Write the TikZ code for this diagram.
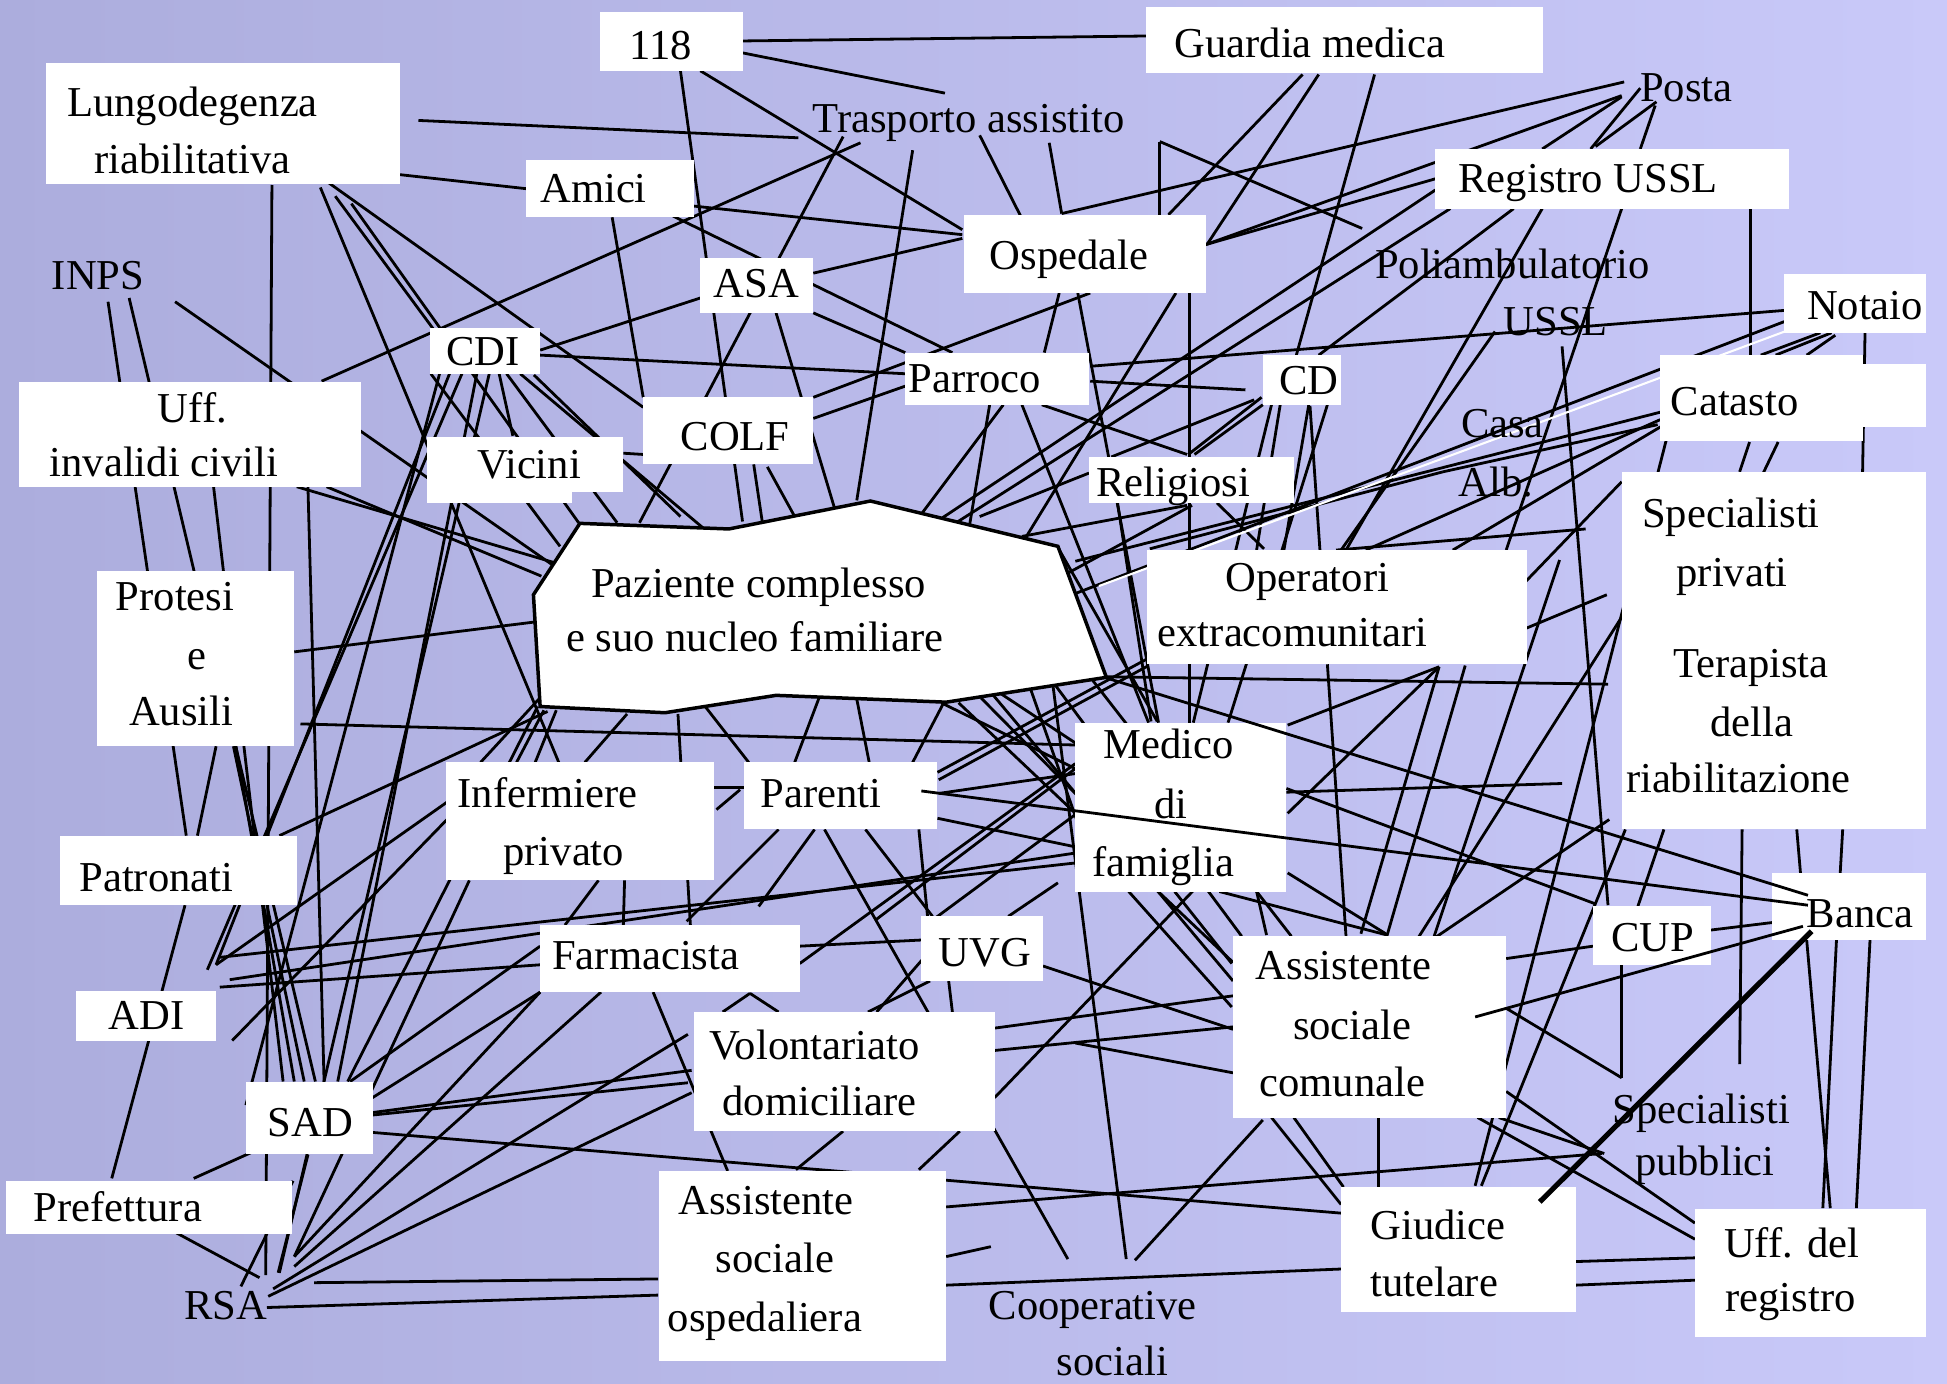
\documentclass[tikz,border=0pt]{standalone}
\usepackage{fontspec}
\setmainfont{Liberation Serif}
\definecolor{bgL}{RGB}{172,173,221}
\definecolor{bgR}{RGB}{201,201,249}
\begin{document}
\begin{tikzpicture}[x=0.0125cm,y=-0.0125cm,
  conn/.style={line width=0.8pt, black},
  thickconn/.style={line width=1.5pt, black},
  wbox/.style={fill=white},
  lbl/.style={anchor=base, inner sep=0pt, font=\fontsize{12.2}{14}\selectfont}]
\useasboundingbox (0,0) rectangle (1568,1114);
\shade[left color=bgL, right color=bgR] (0,0) rectangle (1568,1114);
% ---------- connectors (behind boxes)
\foreach \a/\b/\c/\d in {
598/33/923/29, 585/40/761/75, 564/57/775/185, 548/57/598/420, 337/97/643/111,
316/140/424/152, 559/166/775/189, 542/174/767/284, 655/220/775/192, 655/252/729/284,
679/110/515/421, 735/121/690/403, 789/109/825/180, 845/115/855/172, 855/172/1308/66,
934/114/934/173, 934/114/1097/184, 1049/60/941/173, 1062/60/972/197, 1107/60/1044/286,
971/197/1306/77, 971/197/1156/144, 1306/78/1242/120, 1321/71/1281/120, 1334/82/1285/118,
1333/85/1321/120, 259/307/693/115, 141/243/445/455, 87/243/150/673, 104/240/254/871,
219/149/214/1027, 258/151/450/614, 270/158/349/265, 283/164/466/421, 263/146/518/328,
493/175/518/320, 435/282/564/240, 435/286/729/301, 625/252/672/409, 853/236/841/284,
797/326/781/422, 868/236/933/582, 878/236/655/320, 729/311/655/337, 947/236/826/433,
958/236/958/582, 1156/153/759/417, 1168/168/770/421, 1219/168/1062/286, 1242/168/1084/443,
1306/168/1213/443, 1410/168/1410/286, 1437/250/878/295, 878/307/1003/314, 839/326/956/366,
823/326/925/582, 808/326/742/414, 957/366/1016/320, 962/366/1017/326, 1010/322/895/368,
1024/326/961/582, 1069/326/989/582, 1054/326/1034/443, 1055/327/1063/443, 1031/326/1012/443,
1258/279/1295/729, 1204/267/1080/443, 1437/259/866/478, 1337/332/866/452, 1342/341/1170/443,
1335/342/1162/380, 1162/380/926/442, 1337/338/1100/443, 1466/268/1418/286, 1475/268/1430/286,
1478/270/1455/286, 1502/267/1500/381, 1409/356/1401/380, 1432/356/1420/381, 1342/354/1188/955,
1309/668/1193/955, 1229/468/1306/388, 1229/506/1294/479, 1277/426/1076/443, 891/545/1295/551,
1036/638/1258/631, 1036/635/1285/728, 1037/655/1159/537, 1037/584/1159/537, 1069/535/1084/754,
1159/537/1096/752, 1180/536/1116/757, 1306/497/1141/757, 1296/660/1153/757, 1256/451/1155/754,
1037/703/1116/752, 925/530/755/622, 925/536/756/628, 900/405/927/581, 960/407/861/461,
877/381/789/416, 956/407/823/432, 980/405/1018/442, 852/441/932/581, 805/558/867/599,
790/562/867/640, 830/555/867/660, 239/392/446/453, 263/392/436/464, 248/392/261/871,
172/392/228/871, 237/525/430/501, 242/583/866/600, 159/673/174/601, 188/601/245/871,
190/601/237/871, 225/673/441/573, 149/729/90/949, 372/301/167/781, 362/301/174/777,
384/301/272/871, 394/301/225/1025, 354/301/198/890, 360/646/174/777, 360/660/187/838,
177/795/435/777, 185/789/866/687, 177/771/866/695, 300/896/557/862, 300/898/554/872,
300/912/1080/977, 300/884/435/799, 282/871/435/762, 433/569/280/871, 225/918/156/949,
215/1053/530/1043, 253/1033/530/1030, 216/1044/557/880, 220/1038/554/833, 237/1020/484/799,
237/1012/435/799, 237/1012/378/709, 224/1025/248/930, 194/1036/236/951, 133/988/209/1029,
434/563/387/614, 438/572/416/614, 448/572/431/614, 505/575/471/614, 347/301/451/440,
402/301/413/351, 408/301/497/421, 419/301/566/425, 430/302/548/416, 502/365/518/366,
607/374/614/421, 618/376/640/416, 546/575/556/745, 553/742/627/668, 611/730/656/668,
697/668/751/738, 740/668/747/738, 755/659/866/682, 756/639/866/623, 575/634/599/634,
577/652/596/636, 603/614/564/564, 640/614/660/561, 700/614/690/563, 735/614/760/566,
482/709/455/745, 503/709/502/745, 644/762/743/757, 526/799/586/943, 644/776/866/615,
749/790/699/815, 747/768/706/815, 764/790/767/815, 812/738/852/711, 840/778/993/829,
604/800/582/815, 604/800/627/815, 801/828/993/802, 801/846/993/827, 679/911/641/942,
773/911/740/942, 801/884/967/711, 664/668/860/1014, 848/552/907/1014, 914/1015/1017/902,
866/840/993/864, 762/1012/798/1004, 762/1035/1080/1022, 762/972/1290/929, 909/718/992/811,
946/718/992/776, 982/718/1117/753, 1012/718/1020/753, 758/566/866/619, 772/566/993/775,
800/560/993/790, 850/552/1000/754, 880/548/1040/754, 866/656/751/741, 866/619/705/741,
1024/900/1080/970, 1042/900/1082/956, 1110/900/1110/957, 1213/772/1283/762, 1213/812/1306/868,
1213/879/1365/985, 1190/900/1365/998, 1207/900/1292/929, 1378/749/1427/743, 1306/769/1306/868,
1317/736/1340/668, 1455/757/1474/973, 1479/757/1468/973, 1506/757/1495/973, 1447/668/1450/703,
1484/668/1482/703, 1403/668/1401/857, 1269/1016/1365/1013, 1269/1035/1365/1031}
{\draw[conn] (\a,\b) -- (\c,\d);}
\draw[white, line width=0.6pt] (1440,266) -- (885,472);
% ---------- white boxes
\foreach \a/\b/\c/\d in {
483/10/598/57, 923/6/1243/59, 37/51/322/148, 424/129/559/175, 776/173/971/236,
564/208/655/252, 346/264/435/301, 729/284/877/326, 1017/286/1080/326, 518/320/655/374,
15/308/291/392, 344/352/502/396, 344/352/461/405, 877/368/1042/405, 1156/120/1441/168,
1437/221/1551/268, 1337/286/1500/355, 1500/293/1551/344, 924/443/1230/535, 1306/380/1551/668,
78/460/237/601, 359/614/575/709, 599/614/755/668, 866/582/1036/718, 48/673/239/729,
435/745/644/799, 742/738/840/790, 1283/730/1378/777, 1427/703/1551/757, 61/798/174/838,
559/815/801/911, 993/754/1213/900, 198/871/300/929, 5/951/235/994, 531/943/762/1096,
1080/956/1269/1057, 1365/974/1551/1077}
{\fill[wbox] (\a,\b) rectangle (\c,\d);}
% ---------- central polygon
\draw[fill=white, line width=1pt] (467,421.5) -- (587,426) -- (701,403.5) -- (852,440)
  -- (891,545.5) -- (762,565.5) -- (625,560) -- (535.5,574) -- (435,569) -- (429.6,479) -- cycle;
% ---------- connectors drawn over boxes
\draw[conn] (742,637) -- (1456,729);
\draw[conn] (891,546) -- (1456,721);
\draw[conn] (1188,819) -- (1452,746);
\draw[thickconn] (1459,750) -- (1240,968);
% ---------- labels
\node[lbl] (t118) at (532,48) {118};
\node[lbl] (tguard) at (1055,46) {Guardia medica};
\node[lbl] (tlung1) at (155,94) {Lungodegenza};
\node[lbl] (tlung2) at (155,140) {riabilitativa};
\node[lbl] (tamici) at (478,163) {Amici};
\node[lbl] (ttrasp) at (780,107) {Trasporto assistito};
\node[lbl] (tosp) at (861,217) {Ospedale};
\node[lbl] (tasa) at (609,240) {ASA};
\node[lbl] (tinps) at (79,233) {INPS};
\node[lbl] (tcdi) at (389,294) {CDI};
\node[lbl] (tparr) at (785,316) {Parroco};
\node[lbl] (tcd) at (1054,318) {CD};
\node[lbl] (tcolf) at (592,363) {COLF};
\node[lbl] (tuff1) at (155,340) {Uff.};
\node[lbl] (tuff2) at (132,384) {invalidi civili};
\node[lbl] (tvic) at (426,385) {Vicini};
\node[lbl] (trel) at (945,400) {Religiosi};
\node[lbl] (tpoli1) at (1218,224) {Poliambulatorio};
\node[lbl] (tpoli2) at (1253,270) {USSL};
\node[lbl] (tposta) at (1358,82) {Posta};
\node[lbl] (treg) at (1279,155) {Registro USSL};
\node[lbl] (tnot) at (1502,257) {Notaio};
\node[lbl] (tcat) at (1397,335) {Catasto};
\node[lbl] (tcasa1) at (1210,352) {Casa};
\node[lbl] (tcasa2) at (1205,400) {Alb.};
\node[lbl] (toper1) at (1053,476) {Operatori};
\node[lbl] (toper2) at (1041,521) {extracomunitari};
\node[lbl] (tspp1) at (1394,425) {Specialisti};
\node[lbl] (tspp2) at (1395,472) {privati};
\node[lbl] (tter1) at (1410,546) {Terapista};
\node[lbl] (tter2) at (1411,593) {della};
\node[lbl] (tter3) at (1400,638) {riabilitazione};
\node[lbl] (tpaz1) at (611,481) {Paziente complesso};
\node[lbl] (tpaz2) at (608,525) {e suo nucleo familiare};
\node[lbl] (tprot1) at (141,492) {Protesi};
\node[lbl] (tprot2) at (159,539) {e};
\node[lbl] (tprot3) at (146,584) {Ausili};
\node[lbl] (tinf1) at (441,650) {Infermiere};
\node[lbl] (tinf2) at (454,697) {privato};
\node[lbl] (tpar) at (661,650) {Parenti};
\node[lbl] (tmed1) at (941,611) {Medico};
\node[lbl] (tmed2) at (943,659) {di};
\node[lbl] (tmed3) at (937,706) {famiglia};
\node[lbl] (tpatr) at (126,718) {Patronati};
\node[lbl] (tfarm) at (520,781) {Farmacista};
\node[lbl] (tuvg) at (793,778) {UVG};
\node[lbl] (tcup) at (1331,766) {CUP};
\node[lbl] (tbanca) at (1498,747) {Banca};
\node[lbl] (tadi) at (118,829) {ADI};
\node[lbl] (tvol1) at (656,853) {Volontariato};
\node[lbl] (tvol2) at (660,898) {domiciliare};
\node[lbl] (tasc1) at (1082,789) {Assistente};
\node[lbl] (tasc2) at (1089,837) {sociale};
\node[lbl] (tasc3) at (1081,883) {comunale};
\node[lbl] (tsad) at (250,915) {SAD};
\node[lbl] (tpref) at (95,984) {Prefettura};
\node[lbl] (trsa) at (182,1063) {RSA};
\node[lbl] (taso1) at (617,978) {Assistente};
\node[lbl] (taso2) at (624,1025) {sociale};
\node[lbl] (taso3) at (616,1072) {ospedaliera};
\node[lbl] (tcoop1) at (880,1063) {Cooperative};
\node[lbl] (tcoop2) at (896,1108) {sociali};
\node[lbl] (tgiu1) at (1158,998) {Giudice};
\node[lbl] (tgiu2) at (1155,1044) {tutelare};
\node[lbl] (tureg1) at (1443,1013) {Uff. del};
\node[lbl] (tureg2) at (1442,1056) {registro};
\node[lbl] (tspu1) at (1370,905) {Specialisti};
\node[lbl] (tspu2) at (1373,947) {pubblici};
\end{tikzpicture}
\end{document}
